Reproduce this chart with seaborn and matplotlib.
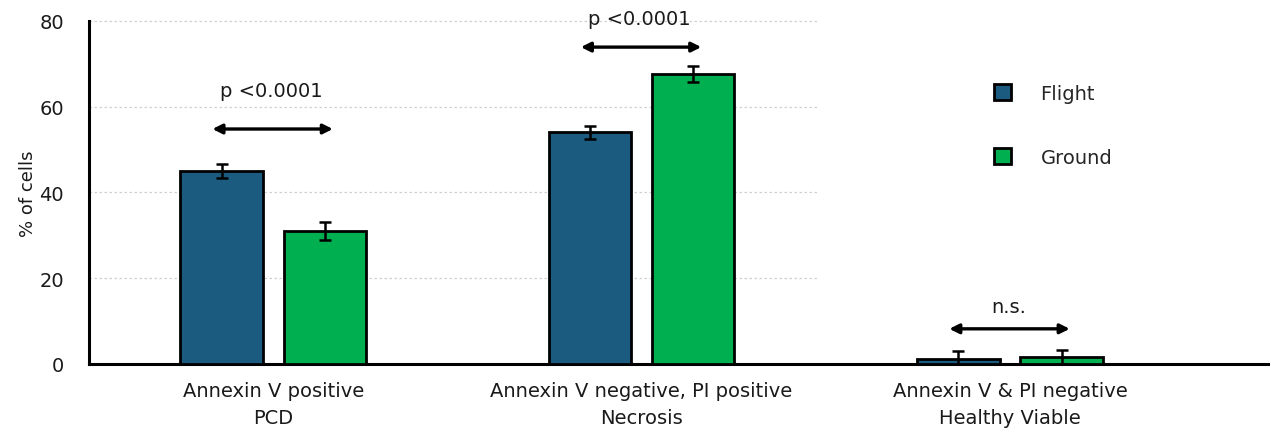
import pandas as pd
import numpy as np
import matplotlib.pyplot as plt
import seaborn as sns
from matplotlib.patches import Patch

# data
categories = ["Annexin V positive\nPCD",
              "Annexin V negative, PI positive\nNecrosis",
              "Annexin V & PI negative\nHealthy Viable"]
groups = ["Flight", "Ground"]
flight_vals = [45.0, 54.0, 1.2]
ground_vals = [31.0, 67.6, 1.7]
flight_err = [1.7, 1.5, 1.8]
ground_err = [2.1, 1.9, 1.6]
p_labels = ["p <0.0001", "p <0.0001", "n.s."]
arrow_y = [54.8, 73.9, 8.2]
label_y = [63.7, 80.6, 13.3]

colors = {"Flight": "#1b5b80", "Ground": "#00b050"}

sns.set_theme(style="white")
plt.rcParams['font.family'] = ['DejaVu Sans']

df = pd.DataFrame({
    "category": categories * 2,
    "group": ["Flight"] * 3 + ["Ground"] * 3,
    "value": flight_vals + ground_vals,
})

fig = plt.figure(figsize=(12.71, 4.39), dpi=100)
ax = fig.add_axes([0.070, 0.1686, 0.9276, 0.7814])

sns.barplot(data=df, x="category", y="value", hue="group", order=categories,
            hue_order=groups, palette=colors, saturation=1, width=0.56, gap=0.2,
            edgecolor="black", linewidth=2.0, errorbar=None, legend=False,
            ax=ax, zorder=3)

# error bars on the bar centres
for cont, errs in zip(ax.containers, [flight_err, ground_err]):
    xs = [b.get_x() + b.get_width() / 2 for b in cont]
    hs = [b.get_height() for b in cont]
    ax.errorbar(xs, hs, yerr=errs, fmt="none", ecolor="black",
                elinewidth=1.8, capsize=4, capthick=1.8, zorder=4)

ax.set_ylim(0, 80)
ax.set_xlim(-0.5, 2.7)
ax.set_yticks([0, 20, 40, 60, 80])

# dashed gridlines stop where the legend box starts
ax.hlines([20, 40, 60, 80], -0.5, 1.48, colors="#d0d0d0",
          linestyles=(0, (2, 2)), linewidth=0.9, zorder=0, clip_on=False)

# significance arrows
for i in range(3):
    ax.annotate("", xy=(i - 0.165, arrow_y[i]), xytext=(i + 0.162, arrow_y[i]),
                arrowprops=dict(arrowstyle="<|-|>", color="black", lw=2.4,
                                mutation_scale=14, shrinkA=0, shrinkB=0),
                annotation_clip=False)
    ax.text(i - 0.005, label_y[i], p_labels[i], ha="center", va="center",
            fontsize=14, color="#1a1a1a", clip_on=False)

for side in ["top", "right"]:
    ax.spines[side].set_visible(False)
for side in ["left", "bottom"]:
    ax.spines[side].set_linewidth(2.2)
    ax.spines[side].set_color("black")

ax.tick_params(axis="both", length=0, labelsize=14, colors="#1a1a1a")
ax.tick_params(axis="y", pad=18)
ax.tick_params(axis="x", pad=12)
for lbl in ax.get_xticklabels():
    lbl.set_linespacing(1.55)

ax.set_xlabel("")
ax.set_ylabel("% of cells", fontsize=13, color="#1a1a1a", labelpad=2)

handles = [Patch(facecolor=colors[g], edgecolor="black", linewidth=2.0, label=g)
           for g in groups]
ax.legend(handles=handles, loc="upper left", bbox_to_anchor=(0.7676, 0.816),
          frameon=False, fontsize=14, handlelength=0.9, handleheight=0.9,
          handletextpad=1.5, labelspacing=2.3, borderpad=0, borderaxespad=0)

fig.savefig("out.png", dpi=100)
